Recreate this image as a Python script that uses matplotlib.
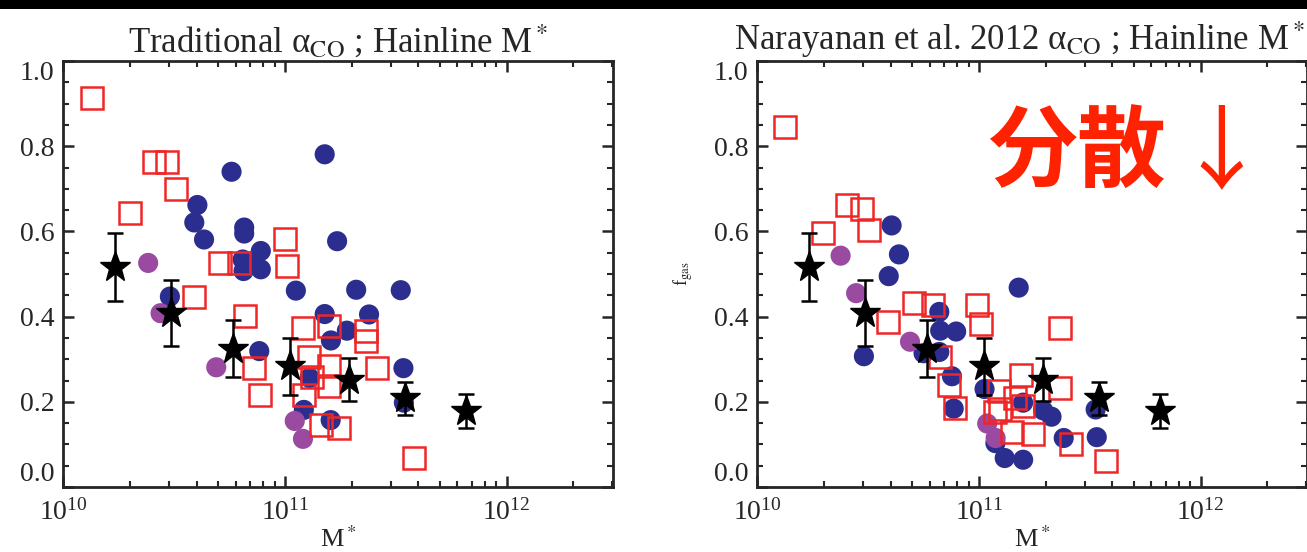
import matplotlib
matplotlib.use("Agg")
import matplotlib.pyplot as plt
import numpy as np
from matplotlib.ticker import LogLocator, NullFormatter, MultipleLocator

plt.rcParams['font.family'] = ['Liberation Serif', 'DejaVu Serif']
plt.rcParams['mathtext.fontset'] = 'stix'

# log10(M*) and f_gas
# left panel: traditional alpha_CO
trad_sq_lm = [10.13, 10.41, 10.47, 10.51, 10.30, 10.59, 10.71, 10.795, 11.00, 11.01,
              10.82, 10.86, 10.89, 11.08, 11.11, 11.085, 11.125, 11.20, 11.20, 11.20,
              11.165, 11.244, 11.365, 11.365, 11.418, 11.581]
trad_sq_f = [0.913, 0.764, 0.764, 0.70, 0.644, 0.446, 0.526, 0.526, 0.583, 0.519,
             0.401, 0.279, 0.215, 0.374, 0.305, 0.217, 0.259, 0.285, 0.238, 0.378,
             0.146, 0.138, 0.366, 0.342, 0.279, 0.069]
trad_blue_lm = [11.18, 10.76, 10.606, 10.592, 10.636, 10.817, 10.817, 10.892, 10.892, 10.814,
                10.81, 10.85, 11.236, 11.05, 11.322, 11.523, 11.18, 11.38, 11.28, 11.208,
                10.482, 10.885, 11.535, 11.112, 11.086, 11.207, 11.537]
trad_blue_f = [0.781, 0.740, 0.662, 0.621, 0.581, 0.609, 0.595, 0.554, 0.511, 0.507,
               0.534, 0.53, 0.577, 0.461, 0.463, 0.462, 0.406, 0.405, 0.367, 0.344,
               0.447, 0.319, 0.279, 0.256, 0.181, 0.157, 0.198]
trad_purple_lm = [10.384, 10.44, 10.691, 11.045, 11.082]
trad_purple_f = [0.526, 0.408, 0.281, 0.155, 0.113]

# right panel: Narayanan et al. 2012 alpha_CO
nar_sq_lm = [10.126, 10.298, 10.407, 10.472, 10.507, 10.59, 10.707, 10.792, 10.824, 10.865,
             10.891, 10.992, 11.009, 11.365, 11.09, 11.094, 11.19, 11.165, 11.20, 11.15,
             11.245, 11.365, 11.414, 11.573, 11.075]
nar_sq_f = [0.845, 0.596, 0.661, 0.653, 0.604, 0.387, 0.431, 0.427, 0.305, 0.24,
            0.186, 0.428, 0.382, 0.374, 0.226, 0.183, 0.262, 0.21, 0.19, 0.128,
            0.125, 0.232, 0.10, 0.06, 0.176]
nar_blue_lm = [10.607, 10.64, 10.594, 10.482, 11.18, 10.822, 10.826, 10.898, 10.822, 10.751,
               10.879, 10.887, 11.026, 11.20, 11.29, 11.328, 11.383, 11.527, 11.532, 11.075,
               11.117, 11.20]
nar_blue_f = [0.614, 0.546, 0.495, 0.307, 0.468, 0.411, 0.367, 0.365, 0.317, 0.314,
              0.26, 0.184, 0.23, 0.198, 0.18, 0.165, 0.115, 0.182, 0.117, 0.103,
              0.068, 0.064]
nar_purple_lm = [10.377, 10.447, 10.69, 11.038, 11.076]
nar_purple_f = [0.543, 0.455, 0.341, 0.149, 0.115]

# binned means (same in both panels)
bin_lm = [10.235, 10.487, 10.767, 11.025, 11.29, 11.543, 11.818]
bin_f = [0.516, 0.408, 0.325, 0.283, 0.252, 0.208, 0.179]
bin_err = [0.08, 0.078, 0.066, 0.066, 0.05, 0.038, 0.04]

y_ticks = [0.0, 0.2, 0.4, 0.6, 0.8, 1.0]

RED = '#EE2626'
BLUE = '#2B2E8E'
PURPLE = '#9A4AA0'
INK = '#262626'

fig = plt.figure(figsize=(13.07, 5.52), dpi=100)
# black strip at the top
fig.patches.append(plt.Rectangle((0, 1 - 9 / 552), 1, 9 / 552, transform=fig.transFigure,
                                 facecolor='black', edgecolor='none', zorder=0))

ax1 = fig.add_axes([63 / 1307, 1 - 487 / 552, 550 / 1307, 426 / 552])
ax2 = fig.add_axes([757 / 1307, 1 - 487 / 552, 550 / 1307, 426 / 552])


def panel(ax, sq_lm, sq_f, bl_lm, bl_f, pu_lm, pu_f):
    ax.scatter(10 ** np.array(bl_lm), bl_f, s=210, c=BLUE, edgecolors='none', zorder=2)
    ax.scatter(10 ** np.array(pu_lm), pu_f, s=210, c=PURPLE, edgecolors='none', zorder=2)
    ax.plot(10 ** np.array(sq_lm), sq_f, 's', ms=15.5, mfc='none', mec=RED, mew=1.8, zorder=3)
    ax.errorbar(10 ** np.array(bin_lm), bin_f, yerr=bin_err, fmt='*', color='k', ms=23,
                elinewidth=1.8, capsize=5.5, capthick=1.8, zorder=4)
    ax.set_xscale('log')
    ax.set_xlim(1e10, 10 ** 12.48)
    ax.set_ylim(0, 1.0)
    ax.xaxis.set_major_locator(LogLocator(base=10, numticks=10))
    ax.xaxis.set_minor_locator(LogLocator(base=10, subs=np.arange(2, 10), numticks=20))
    ax.xaxis.set_minor_formatter(NullFormatter())
    ax.set_yticks(y_ticks, [f'{v:.1f}' for v in y_ticks])
    ax.yaxis.set_minor_locator(MultipleLocator(0.05))
    ax.tick_params(which='both', direction='in', top=True, right=True, labelsize=20,
                   colors=INK)
    ax.tick_params(which='major', length=8, width=1.8, pad=6)
    ax.tick_params(which='minor', length=4, width=1.5)
    ax.tick_params(axis='x', which='major', pad=9)
    # IDL-style: end labels pulled inside the axis range
    labels = ax.get_yticklabels()
    labels[0].set_va('bottom')
    labels[-1].set_va('top')
    for s in ax.spines.values():
        s.set_linewidth(2)
        s.set_color(INK)
    ax.set_xlabel(r'M$^*$', fontsize=19, labelpad=0, color=INK)


panel(ax1, trad_sq_lm, trad_sq_f, trad_blue_lm, trad_blue_f, trad_purple_lm, trad_purple_f)
panel(ax2, nar_sq_lm, nar_sq_f, nar_blue_lm, nar_blue_f, nar_purple_lm, nar_purple_f)

ax1.set_title(r'Traditional α$_{\rm CO}$ ; Hainline M$^*$', fontsize=25, pad=5, color=INK)
# the right title runs up to the figure edge
fig.text(1305 / 1307, 1 - 50 / 552, r'Narayanan et al. 2012 α$_{\rm CO}$ ; Hainline M$^*$',
         fontsize=25, color=INK, ha='right', va='baseline')
ax2.set_ylabel(r'f$_{\rm gas}$', fontsize=13, labelpad=14, color=INK)

ax2.text(0.42, 0.78, '分散', transform=ax2.transAxes, fontsize=64, fontweight='bold',
         color='#FF2200', family=['Noto Sans CJK JP', 'DejaVu Sans'], va='center', ha='left')
ax2.text(0.845, 0.78, '↓', transform=ax2.transAxes, fontsize=66, color='#FF2200',
         family=['Noto Sans CJK JP', 'DejaVu Sans'], va='center', ha='center')

fig.savefig('out.png', dpi=100)
